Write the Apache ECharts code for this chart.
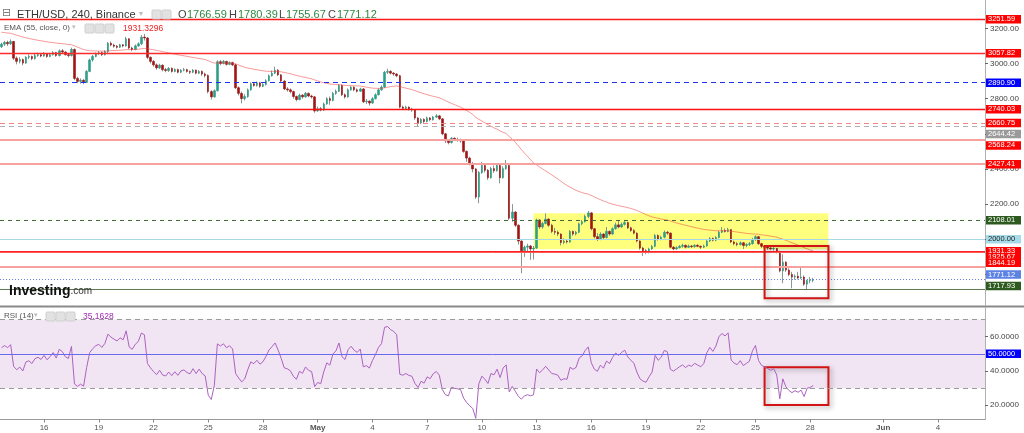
<!DOCTYPE html>
<html><head><meta charset="utf-8">
<script src="https://cdn.jsdelivr.net/npm/echarts@6/dist/echarts.min.js"></script>
<style>html,body{margin:0;padding:0;background:#fff}#c{width:1024px;height:433px}</style>
</head><body><div id="c"></div>
<script>
// ---------- data ----------
const START_UTC = Date.UTC(2022, 3, 13, 16, 0); // first 4h slot
const SLOT_COUNT = 324;
const firstOpen = 3095;
const closes = [
3110,3120,3112,3125,3030,3012,3022,3002,3035,3040,
3028,3045,3050,3042,3055,3040,3050,3062,3045,3072,
3065,3050,3045,3080,2915,2898,2905,2892,2955,3020,
3040,3055,3062,3050,3068,3115,3105,3098,3092,3106,
3100,3140,3088,3080,3100,3112,3150,3145,3035,3012,
2992,2975,2990,2965,2960,2972,2955,2966,2950,2962,
2965,2955,2950,2962,2945,2955,2940,2932,2840,2810,
2845,3010,3000,3012,2995,3005,2992,2862,2830,2800,
2812,2850,2885,2875,2890,2870,2880,2902,2930,2945,
2962,2935,2900,2855,2850,2840,2812,2795,2820,2810,
2830,2815,2810,2730,2742,2735,2770,2800,2790,2830,
2842,2875,2822,2810,2850,2865,2850,2842,2855,2782,
2786,2775,2800,2822,2850,2866,2950,2955,2945,2940,
2930,2752,2745,2752,2740,2735,2690,2662,2682,2670,
2690,2680,2695,2702,2685,2600,2560,2550,2575,2568,
2565,2560,2500,2462,2430,2400,2240,2380,2420,2392,
2350,2402,2390,2420,2350,2402,2420,2120,2155,2080,
1990,1935,1955,1962,1945,1950,2110,2070,2090,2115,
2080,2045,2040,2030,1982,1990,1985,2045,2030,2040,
2088,2100,2130,2150,2060,2015,2000,2030,2010,2045,
2030,2060,2082,2070,2085,2095,2065,2050,2035,1990,
1950,1935,1928,1945,1960,2022,2000,2012,2040,2035,
1955,1945,1952,1960,1966,1955,1962,1958,1966,1960,
1955,1962,1990,2005,1995,2010,2040,2050,2045,2055,
1985,1975,1970,1980,1965,1970,1975,2000,2015,1975,
1960,1955,1950,1945,1948,1930,1820,1870,1825,1800,
1785,1790,1780,1785,1745,1765,1766.59,1771.12];
const highs = [
3118,3128,3130,3137,3128,3040,3035,3028,3042,3052,
3045,3055,3062,3058,3065,3060,3058,3070,3066,3080,
3082,3070,3058,3090,3085,2925,2915,2910,2962,3028,
3048,3062,3070,3068,3075,3122,3125,3112,3105,3112,
3110,3152,3145,3095,3108,3120,3162,3168,3150,3040,
3020,3000,2998,2995,2975,2980,2978,2972,2970,2968,
2975,2970,2960,2968,2966,2962,2960,2948,2938,2848,
2852,3018,3020,3020,3015,3012,3010,2998,2870,2840,
2825,2858,2892,2895,2898,2895,2888,2910,2938,2960,
2982,2968,2940,2905,2865,2858,2845,2818,2828,2825,
2838,2835,2822,2815,2755,2752,2778,2808,2812,2838,
2852,2882,2880,2830,2858,2872,2870,2858,2862,2860,
2798,2790,2808,2830,2858,2875,2958,2970,2962,2952,
2945,2935,2760,2760,2756,2748,2740,2695,2690,2688,
2698,2695,2702,2712,2708,2690,2605,2570,2582,2580,
2578,2572,2565,2505,2470,2440,2405,2388,2440,2428,
2400,2412,2420,2430,2425,2415,2451,2425,2200,2160,
2085,1995,1965,1975,1968,1962,2118,2115,2100,2148,
2120,2088,2065,2050,2035,2005,2000,2052,2050,2048,
2095,2110,2140,2161,2155,2065,2035,2040,2035,2070,
2050,2068,2095,2110,2095,2110,2100,2072,2058,2040,
1995,1958,1945,1952,1968,2030,2028,2020,2050,2048,
2040,1962,1960,1968,1975,1970,1970,1968,1972,1972,
1965,1970,1998,2012,2010,2018,2048,2070,2062,2065,
2058,1992,1985,1988,1985,1978,1985,2008,2022,2018,
1980,1968,1962,1958,1955,1950,1935,1914,1875,1835,
1815,1800,1815,1844,1795,1770,1785,1780.39];
const lows = [
3088,3100,3100,3105,3020,2995,3000,2990,2998,3025,
3018,3022,3038,3035,3038,3032,3035,3045,3038,3040,
3055,3045,3035,3040,2905,2888,2885,2882,2888,2950,
3010,3035,3048,3042,3045,3060,3098,3090,3085,3088,
3092,3095,3080,3070,3075,3095,3105,3130,3025,3000,
2982,2965,2968,2955,2950,2952,2948,2950,2944,2945,
2955,2948,2940,2945,2938,2940,2930,2920,2830,2795,
2805,2840,2990,2995,2988,2990,2985,2855,2818,2773,
2790,2805,2845,2868,2868,2862,2865,2875,2898,2925,
2940,2928,2892,2848,2840,2830,2800,2785,2790,2800,
2805,2808,2800,2720,2725,2728,2730,2765,2765,2785,
2822,2838,2815,2800,2805,2845,2842,2835,2838,2775,
2770,2760,2770,2795,2818,2845,2860,2940,2938,2930,
2922,2745,2735,2738,2732,2725,2680,2640,2655,2660,
2665,2672,2675,2690,2678,2592,2548,2540,2545,2558,
2555,2550,2492,2440,2420,2380,2230,2205,2372,2380,
2338,2345,2378,2385,2318,2345,2395,2110,2100,2070,
1970,1807,1900,1930,1883,1885,1945,2058,2060,2085,
2070,2035,2025,2018,1965,1972,1975,1980,2020,2022,
2035,2080,2095,2120,2050,2005,1990,1995,2000,2005,
2020,2025,2055,2062,2065,2078,2058,2042,2028,1982,
1940,1905,1915,1920,1940,1955,1992,1995,2005,2025,
1948,1938,1940,1948,1952,1948,1950,1950,1952,1955,
1945,1950,1958,1985,1988,1990,2005,2035,2038,2040,
1978,1965,1960,1965,1945,1955,1962,1970,1990,1968,
1950,1945,1940,1938,1935,1920,1812,1750,1815,1790,
1721,1770,1772,1775,1735,1716,1750,1755.67];

const emaPeriod = 55, emaSeed = 3180, emaLegendValue = '1931.3296';
const rsiPeriod = 14, rsiSeedGain = 15, rsiSeedLoss = 14, rsiLastValue = 35.1628;

const xTickDates = ['2022-04-16','2022-04-19','2022-04-22','2022-04-25','2022-04-28','2022-05-01','2022-05-04','2022-05-07','2022-05-10','2022-05-13','2022-05-16','2022-05-19','2022-05-22','2022-05-25','2022-05-28','2022-06-01','2022-06-04'];
const xTickLabels = ['16','19','22','25','28','May','4','7','10','13','16','19','22','25','28','Jun','4'];

const levelValues = [3251.59, 3057.82, 2890.90, 2740.03, 2660.75, 2644.42, 2568.24, 2427.41, 2108.01, 2000.00, 1931.33, 1925.67, 1844.19, 1771.12, 1717.93];
const rsiLevels = [70, 50, 30];

// annotation boxes (slot index, price / rsi value)
const yellowBox = {from: 175, to: 272, top: 2148, bottom: 1943};
const redBoxPrice = {from: 251, to: 272, top: 1962, bottom: 1664};
const redBoxRsi = {from: 251, to: 272, top: 42.2, bottom: 20.2};

// ---------- styles ----------
const FONT = 'Liberation Sans, Arial, sans-serif';
const levelStyles = [
  {c:'#ff1a1a', t:'solid', w:1.3, bg:'#ff0000', fg:'#fff', dy:0},
  {c:'#ff2a2a', t:'solid', w:1.3, bg:'#ff0000', fg:'#fff', dy:0},
  {c:'#1f33f5', t:[5,4], w:1, bg:'#0000ff', fg:'#fff', dy:0},
  {c:'#ff1010', t:'solid', w:1.3, bg:'#ff0000', fg:'#fff', dy:0},
  {c:'#f58585', t:[5,4], w:1.2, bg:'#ff0000', fg:'#fff', dy:0},
  {c:'#b0b0b0', t:[5,4], w:1, bg:'#9a9a9a', fg:'#fff', dy:8},
  {c:'#f7a0a0', t:'solid', w:2, bg:'#ff0000', fg:'#fff', dy:6},
  {c:'#f7a0a0', t:'solid', w:2, bg:'#ff0000', fg:'#fff', dy:0},
  {c:'#3e6b34', t:[4,4], w:1, bg:'#2d5a1f', fg:'#fff', dy:0},
  {c:'#a8d8e6', t:'solid', w:1.2, bg:'#a6dbe9', fg:'#222', dy:0},
  {c:'#ff2020', t:'solid', w:1.2, bg:'#ff0000', fg:'#fff', dy:0},
  {c:'#ff5a5a', t:'solid', w:1, bg:'#ff0000', fg:'#fff', dy:5},
  {c:'#f7a0a0', t:'solid', w:2, bg:'#ff0000', fg:'#fff', dy:-4},
  {c:'#6680ee', t:[1,2], w:1, bg:'#5c82e4', fg:'#fff', dy:-5},
  {c:'#5d7a50', t:'solid', w:1.2, bg:'#2d5a1f', fg:'#fff', dy:-3}
];

// ---------- derived ----------
const pad = n => String(n).padStart(2,'0');
const categories = [];
for (let i = 0; i < SLOT_COUNT; i++) {
  const d = new Date(START_UTC + i * 4 * 3600 * 1000);
  categories.push(d.getUTCFullYear() + '-' + pad(d.getUTCMonth()+1) + '-' + pad(d.getUTCDate()) + ' ' + pad(d.getUTCHours()) + ':00');
}
const tickMap = {};
xTickDates.forEach((d, i) => { tickMap[d + ' 00:00'] = xTickLabels[i]; });
const isTick = (idx) => tickMap[categories[idx]] !== undefined;

const opens = closes.map((c, i) => i === 0 ? firstOpen : closes[i-1]);
const wickData = closes.map((c, i) => [opens[i], c, lows[i], highs[i]]);
const bodyData = closes.map((c, i) => [opens[i], c, Math.min(opens[i], c), Math.max(opens[i], c)]);

const ema = [];
{ const k = 2 / (emaPeriod + 1); let e = emaSeed;
  closes.forEach(c => { e = e + k * (c - e); ema.push(+e.toFixed(2)); }); }
const rsi = [];
{ let ag = rsiSeedGain, al = rsiSeedLoss;
  closes.forEach((c, i) => { const ch = c - opens[i];
    ag = (ag * (rsiPeriod-1) + Math.max(ch, 0)) / rsiPeriod;
    al = (al * (rsiPeriod-1) + Math.max(-ch, 0)) / rsiPeriod;
    rsi.push(+(100 - 100 / (1 + ag / al)).toFixed(2)); }); }

const labelBase = {show:true, position:'end', distance:1, fontSize:7.5, fontFamily:FONT, padding:[1,2,0,2], width:31, lineHeight:7.5, align:'left'};
const levelLines = levelValues.map((v, i) => {
  const s = levelStyles[i];
  return {yAxis: v, lineStyle:{color:s.c, type:s.t, width:s.w},
    label: Object.assign({}, labelBase, {formatter: v.toFixed(2), backgroundColor:s.bg, color:s.fg, offset:[0, s.dy]})};
});

const last = closes.length - 1;
const chart = echarts.init(document.getElementById('c'), null, {renderer:'canvas'});
const iconBox = (x, y) => ({type:'rect', shape:{x:x, y:y, width:9, height:9, r:1}, style:{fill:'#e2e2e2', stroke:'#d0d0d0'}});

chart.setOption({
  animation: false,
  backgroundColor: '#ffffff',
  grid: [
    {left:0, right:39, top:0, height:305},
    {left:0, right:39, top:308, height:111.5}
  ],
  xAxis: [
    {type:'category', gridIndex:0, data:categories, boundaryGap:true,
     axisLine:{show:false}, axisTick:{show:false}, axisLabel:{show:false}, splitLine:{show:false}},
    {type:'category', gridIndex:1, data:categories, boundaryGap:true,
     axisLine:{show:true, lineStyle:{color:'#9a9a9a', width:1}},
     axisTick:{show:true, interval:(i)=>isTick(i), alignWithLabel:true, length:3, lineStyle:{color:'#888'}},
     axisLabel:{interval:(i)=>isTick(i), margin:4, fontSize:8, fontFamily:FONT, color:'#555',
       formatter:(v)=>{ const t = tickMap[v]; if (t === undefined) return ''; return /^[A-Z]/.test(t) ? '{b|' + t + '}' : t; },
       rich:{b:{fontWeight:'bold', fontSize:8, fontFamily:FONT, color:'#555'}}},
     splitLine:{show:false}}
  ],
  yAxis: [
    {type:'value', gridIndex:0, position:'right', min:1626.3, max:3361, minInterval:200, maxInterval:200,
     axisLine:{show:true, lineStyle:{color:'#b0b0b0'}},
     axisTick:{show:true, length:3, lineStyle:{color:'#666'}},
     axisLabel:{margin:5, fontSize:8, fontFamily:FONT, color:'#444', showMinLabel:false, showMaxLabel:false, formatter:(v)=>v.toFixed(2)},
     splitLine:{show:false}},
    {type:'value', gridIndex:1, position:'right', min:11.72, max:76.7, minInterval:20, maxInterval:20,
     axisLine:{show:true, lineStyle:{color:'#b0b0b0'}},
     axisTick:{show:true, length:3, lineStyle:{color:'#666'}},
     axisLabel:{margin:5, fontSize:8, fontFamily:FONT, color:'#444', showMinLabel:false, showMaxLabel:false, formatter:(v)=>v.toFixed(4)},
     splitLine:{show:false}}
  ],
  series: [
    {type:'candlestick', name:'wick', xAxisIndex:0, yAxisIndex:0, data:wickData, barWidth:1, silent:true,
     itemStyle:{color:'#8a9890', color0:'#8a9890', borderColor:'#8a9890', borderColor0:'#8a9890', borderWidth:1},
     markArea:{silent:true, data:[
       [{xAxis:yellowBox.from, yAxis:yellowBox.top, itemStyle:{color:'rgba(255,255,40,0.6)'}}, {xAxis:yellowBox.to, yAxis:yellowBox.bottom}]
     ]}},
    {type:'candlestick', name:'body', xAxisIndex:0, yAxisIndex:0, data:bodyData, barWidth:2, silent:true,
     itemStyle:{color:'#2e9e88', color0:'#a01414', borderColor:'#2e9e88', borderColor0:'#a01414', borderWidth:0.6},
     markArea:{silent:true, z:6, data:[
       [{xAxis:redBoxPrice.from, yAxis:redBoxPrice.top, itemStyle:{color:'rgba(255,255,255,0)', borderColor:'#d21414', borderWidth:2, shadowBlur:5, shadowColor:'rgba(0,0,0,0.35)', shadowOffsetX:2, shadowOffsetY:2}}, {xAxis:redBoxPrice.to, yAxis:redBoxPrice.bottom}]
     ]}},
    {type:'line', name:'EMA', xAxisIndex:0, yAxisIndex:0, data:ema, showSymbol:false, symbol:'none', silent:true,
     lineStyle:{color:'rgba(240,70,70,0.55)', width:1},
     markLine:{silent:true, symbol:['none','none'], animation:false, data:levelLines}},
    {type:'line', name:'RSI', xAxisIndex:1, yAxisIndex:1, data:rsi, showSymbol:false, symbol:'none', silent:true,
     lineStyle:{color:'#ab62c0', width:1},
     markArea:{silent:true, data:[
       [{yAxis:rsiLevels[2], itemStyle:{color:'#f1e5f3'}}, {yAxis:rsiLevels[0]}],
       [{xAxis:redBoxRsi.from, yAxis:redBoxRsi.top, itemStyle:{color:'rgba(255,255,255,0)', borderColor:'#d21414', borderWidth:2, shadowBlur:5, shadowColor:'rgba(0,0,0,0.35)', shadowOffsetX:2, shadowOffsetY:2}}, {xAxis:redBoxRsi.to, yAxis:redBoxRsi.bottom}]
     ]},
     markLine:{silent:true, symbol:['none','none'], data:[
       {yAxis:rsiLevels[0], lineStyle:{color:'#9a9a9a', type:[5,4], width:1}, label:{show:false}},
       {yAxis:rsiLevels[2], lineStyle:{color:'#9a9a9a', type:[5,4], width:1}, label:{show:false}},
       {yAxis:rsiLevels[1], lineStyle:{color:'#6a6af0', type:'solid', width:1},
        label:Object.assign({}, labelBase, {formatter:rsiLevels[1].toFixed(4), backgroundColor:'#0000ff', color:'#fff'})},
       {yAxis:rsiLastValue, lineStyle:{opacity:0},
        label:Object.assign({}, labelBase, {formatter:rsiLastValue.toFixed(4), backgroundColor:'#8a168f', color:'#fff'})}
     ]}}
  ],
  graphic: [
    {type:'line', shape:{x1:0, y1:306.5, x2:1024, y2:306.5}, style:{stroke:'#8a8a8a', lineWidth:2}, z:50},
    {type:'text', left:2, top:8, z:60, style:{text:'⊟', font:'11px DejaVu Sans', fill:'#777'}},
    {type:'text', left:17, top:9, z:60, style:{text:'ETH/USD, 240, Binance', font:'11px ' + FONT, fill:'#333'}},
    {type:'text', left:139, top:10, z:60, style:{text:'▾', font:'8px DejaVu Sans', fill:'#bbb'}},
    Object.assign(iconBox(152, 10), {z:60}), Object.assign(iconBox(162, 10), {z:60}),
    {type:'text', left:178, top:9, z:60, style:{text:'O', font:'11px ' + FONT, fill:'#444'}},
    {type:'text', left:187, top:9, z:60, style:{text:opens[last].toFixed(2), font:'11px ' + FONT, fill:'#2c8a40'}},
    {type:'text', left:229, top:9, z:60, style:{text:'H', font:'11px ' + FONT, fill:'#444'}},
    {type:'text', left:238, top:9, z:60, style:{text:highs[last].toFixed(2), font:'11px ' + FONT, fill:'#2c8a40'}},
    {type:'text', left:279, top:9, z:60, style:{text:'L', font:'11px ' + FONT, fill:'#444'}},
    {type:'text', left:286, top:9, z:60, style:{text:lows[last].toFixed(2), font:'11px ' + FONT, fill:'#2c8a40'}},
    {type:'text', left:328, top:9, z:60, style:{text:'C', font:'11px ' + FONT, fill:'#444'}},
    {type:'text', left:337, top:9, z:60, style:{text:closes[last].toFixed(2), font:'11px ' + FONT, fill:'#2c8a40'}},
    {type:'text', left:4, top:24, z:60, style:{text:'EMA (55, close, 0)', font:'8px ' + FONT, fill:'#555'}},
    {type:'text', left:72, top:24, z:60, style:{text:'▾', font:'7px DejaVu Sans', fill:'#bbb'}},
    Object.assign(iconBox(85, 24), {z:60}), Object.assign(iconBox(95, 24), {z:60}), Object.assign(iconBox(105, 24), {z:60}),
    {type:'text', left:123, top:24, z:60, style:{text:emaLegendValue, font:'8.5px ' + FONT, fill:'#ee2222'}},
    {type:'text', left:4, top:312, z:60, style:{text:'RSI (14)', font:'8px ' + FONT, fill:'#555'}},
    {type:'text', left:34, top:312, z:60, style:{text:'▾', font:'7px DejaVu Sans', fill:'#bbb'}},
    Object.assign(iconBox(46, 312), {z:60}), Object.assign(iconBox(56, 312), {z:60}), Object.assign(iconBox(66, 312), {z:60}),
    {type:'text', left:83, top:312, z:60, style:{text:rsiLastValue.toFixed(4), font:'8.5px ' + FONT, fill:'#9c27b0'}},
    {type:'text', left:9, top:284, z:60, style:{text:'{a|Investing}{b|.com}', rich:{a:{font:'bold 14px ' + FONT, fill:'#111'}, b:{font:'10px ' + FONT, fill:'#333'}}}}
  ]
});
</script>
</body></html>
